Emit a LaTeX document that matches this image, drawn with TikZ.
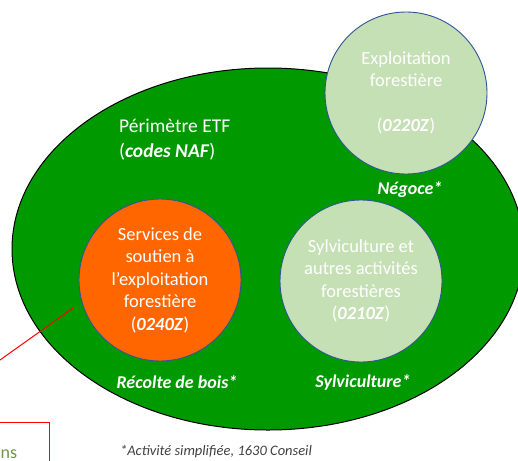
\documentclass[tikz,border=0pt]{standalone}
\usepackage{fontspec}
\setmainfont{Carlito}
\usetikzlibrary{shapes.geometric}
\definecolor{etfgreen}{RGB}{0,153,0}
\definecolor{lightgreen}{RGB}{197,224,180}
\definecolor{orangefill}{RGB}{255,102,0}
\definecolor{bordblue}{RGB}{47,85,151}
\definecolor{olivetext}{RGB}{112,150,70}
\definecolor{footgray}{RGB}{64,64,64}
\tikzset{
  bubble/.style={circle, minimum size=162pt, inner sep=0pt, draw=bordblue, line width=0.9pt,
    text=white, align=center, font=\fontsize{18.5}{22.5}\selectfont},
  tag/.style={text=white, font=\fontsize{18}{22}\selectfont\bfseries\itshape, inner sep=0pt},
}
\begin{document}
\begin{tikzpicture}[x=1pt,y=-1pt]
\useasboundingbox (0,0) rectangle (518,460);
\clip (0,0) rectangle (518,460);
\node[ellipse, draw=black, fill=etfgreen, line width=1pt, minimum width=512pt, minimum height=362pt, inner sep=0pt] (etf) at (268,249) {};
\node[anchor=west, align=left, text=white, inner sep=0pt, font=\fontsize{19.5}{25}\selectfont] (perim) at (119,140) {Périmètre ETF\\(\textbf{\textit{codes NAF}})};
\node[bubble, fill=lightgreen] (expl) at (406,93) {Exploitation\\forestière\\[22.5pt](\textbf{\textit{0220Z}})};
\node[bubble, fill=orangefill] (serv) at (160,280) {Services de\\soutien à\\l'exploitation\\forestière\\(\textbf{\textit{0240Z}})};
\node[bubble, fill=lightgreen] (sylv) at (361,281) {Sylviculture et\\autres activités\\forestières\\(\textbf{\textit{0210Z}})};
\node[tag] (neg) at (410,190) {Négoce*};
\node[tag] (rec) at (177,382) {Récolte de bois*};
\node[tag] (syl) at (363,382) {Sylviculture*};
\node[text=footgray, font=\fontsize{14.5}{16}\selectfont\itshape, inner sep=0pt] (foot) at (216,452) {*Activité simplifiée, 1630 Conseil};
\coordinate (r1) at (0,360);
\coordinate (r2) at (73,308);
\draw[red, line width=1pt] (r1) -- (r2);
\node[draw=red, line width=1.4pt, minimum width=80pt, minimum height=60pt, anchor=north east, inner sep=0pt] (box) at (50,422) {};
\node[anchor=base west, text=olivetext, font=\fontsize{18}{22}\selectfont, inner sep=0pt] (ns) at (0.5,458) {ns};
\end{tikzpicture}
\end{document}
